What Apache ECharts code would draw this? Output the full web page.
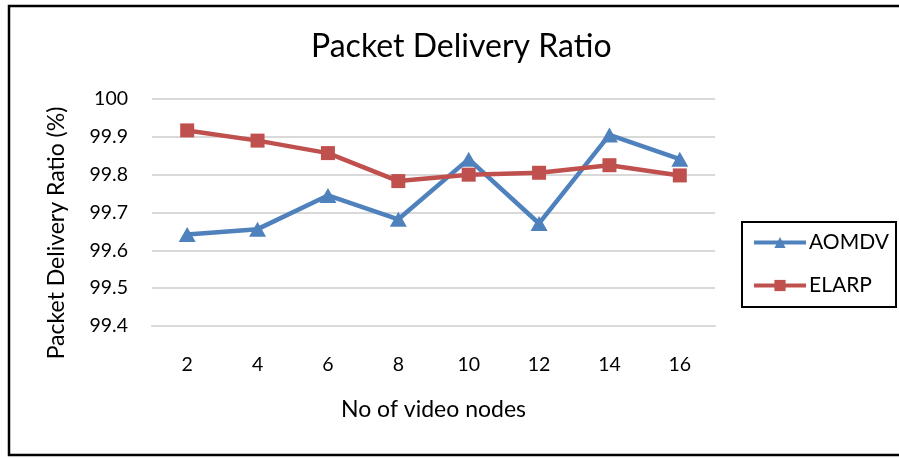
<!DOCTYPE html>
<html>
<head>
<meta charset="utf-8">
<script src="https://cdn.jsdelivr.net/npm/echarts@6/dist/echarts.min.js"></script>
<style>html,body{margin:0;padding:0;background:#fff}#c{width:899px;height:458px}</style>
</head>
<body>
<div id="c"></div>
<script>
const categories = ['2','4','6','8','10','12','14','16'];
const aomdv = [99.642, 99.656, 99.745, 99.682, 99.841, 99.671, 99.905, 99.841];
const elarp = [99.917, 99.890, 99.857, 99.783, 99.800, 99.805, 99.825, 99.798];
const yTicks = { min: 99.4, max: 100, interval: 0.1 };

const FONT = 'Lato, "Open Sans", sans-serif';
const chart = echarts.init(document.getElementById('c'));
chart.setOption({
  animation: false,
  backgroundColor: '#fff',
  title: {
    text: 'Packet Delivery Ratio',
    left: 311, top: 31, padding: 0,
    textStyle: { fontFamily: FONT, fontSize: 32, fontWeight: 'normal', color: '#000' }
  },
  graphic: [
    { type: 'rect', shape: { x: 9, y: 6, width: 1000, height: 449 }, style: { fill: 'none', stroke: '#000', lineWidth: 2.5 }, z: 100 },
    { type: 'rect', shape: { x: 742, y: 222, width: 154, height: 85 }, style: { fill: '#fff', stroke: '#000', lineWidth: 2 }, z: 1 },
    { type: 'text', x: 57, y: 233, rotation: Math.PI / 2, z: 10,
      style: { text: 'Packet Delivery Ratio (%)', fontFamily: FONT, fontSize: 23, fill: '#000', align: 'center', verticalAlign: 'middle' } }
  ],
  legend: {
    orient: 'vertical', left: 752, top: 232, padding: 0,
    itemWidth: 52, itemHeight: 14, itemGap: 22,
    lineStyle: { width: 4 },
    textStyle: { fontFamily: FONT, fontSize: 21, color: '#000', padding: [0, 0, 0, -2] },
    z: 10
  },
  grid: { left: 152, right: 184, top: 99, bottom: 132 },
  xAxis: {
    type: 'category', data: categories, boundaryGap: true,
    name: 'No of video nodes', nameLocation: 'middle', nameGap: 72,
    nameTextStyle: { fontFamily: FONT, fontSize: 23, color: '#000' },
    axisTick: { show: false },
    axisLine: { lineStyle: { color: '#d9d9d9', width: 2 } },
    axisLabel: { fontFamily: FONT, fontSize: 19.5, color: '#000', margin: 29 }
  },
  yAxis: {
    type: 'value', min: yTicks.min, max: yTicks.max, interval: yTicks.interval,
    axisLine: { show: false }, axisTick: { show: false },
    axisLabel: { fontFamily: FONT, fontSize: 19.5, color: '#000', margin: 24,
      formatter: v => (Math.round(v * 10) / 10).toString() },
    splitLine: { lineStyle: { color: '#d9d9d9', width: 2 } }
  },
  series: [
    { name: 'AOMDV', type: 'line', data: aomdv, symbol: 'triangle', symbolSize: [17, 15],
      lineStyle: { color: '#4f81bd', width: 4.5 }, itemStyle: { color: '#4f81bd' } },
    { name: 'ELARP', type: 'line', data: elarp, symbol: 'rect', symbolSize: 14,
      lineStyle: { color: '#c0504d', width: 4.5 }, itemStyle: { color: '#c0504d' } }
  ]
});
</script>
</body>
</html>
